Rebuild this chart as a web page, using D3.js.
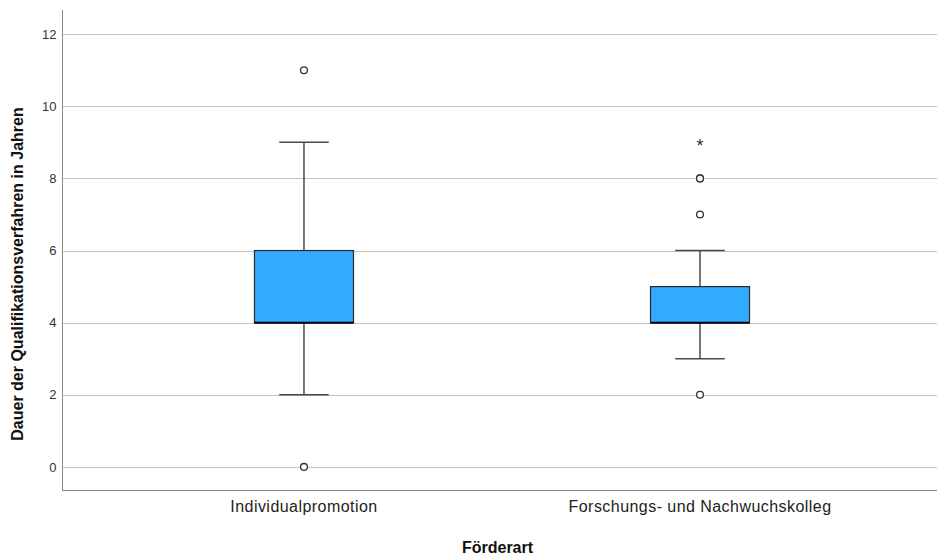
<!DOCTYPE html>
<html>
<head>
<meta charset="utf-8">
<script src="https://cdn.jsdelivr.net/npm/d3@7"></script>
<style>
  body { margin: 0; background: #fff; }
  svg { display: block; font-family: "Liberation Sans", Arial, sans-serif; }
</style>
</head>
<body>
<svg id="chart" width="937" height="556"></svg>
<script>
// Duration of the qualification process by type of funding
const categories = ["Individualpromotion", "Forschungs- und Nachwuchskolleg"];
const whiskerLow = [2, 3];
const q1 = [4, 4];
const median = [4, 4];
const q3 = [6, 5];
const whiskerHigh = [9, 6];
const outliers = [[0, 11], [2, 7, 8, 8]];   // circles
const extremes = [[], [9]];                  // asterisks
const yTicks = [0, 2, 4, 6, 8, 10, 12];

const svg = d3.select("#chart");
const W = 937, H = 556;
const plotLeft = 62, plotTop = 10, plotBottom = 490;

const y = d3.scaleLinear().domain([-0.64, 12.67]).range([plotBottom, plotTop]);
const x = d3.scaleBand().domain(categories).range([plotLeft, 942])
  .paddingInner(0.75).paddingOuter(0.486);
const bw = x.bandwidth();
const cx = c => x(c) + bw / 2;

// gridlines
svg.append("g").selectAll("line").data(yTicks).join("line")
  .attr("x1", plotLeft).attr("x2", W)
  .attr("y1", d => Math.round(y(d)) + 0.5).attr("y2", d => Math.round(y(d)) + 0.5)
  .attr("stroke", "#c4c4c4").attr("stroke-width", 1);

// axes
const yAxis = svg.append("g").attr("transform", `translate(${plotLeft + 0.5},0)`)
  .call(d3.axisLeft(y).tickValues(yTicks).tickSize(0).tickPadding(6));
yAxis.select(".domain").remove();
yAxis.selectAll("text").attr("font-size", 13).attr("fill", "#333")
  .style("font-family", "'Liberation Sans', Arial, sans-serif");

svg.append("line").attr("x1", plotLeft + 0.5).attr("x2", plotLeft + 0.5)
  .attr("y1", plotTop).attr("y2", plotBottom).attr("stroke", "#8a8a8a");
svg.append("line").attr("x1", plotLeft).attr("x2", W)
  .attr("y1", plotBottom + 0.5).attr("y2", plotBottom + 0.5).attr("stroke", "#8a8a8a");

const xAxis = svg.append("g").attr("transform", `translate(0,${plotBottom})`)
  .call(d3.axisBottom(x).tickSize(0).tickPadding(11));
xAxis.select(".domain").remove();
xAxis.selectAll("text").attr("font-size", 16).attr("fill", "#222")
  .attr("letter-spacing", "0.45px")
  .style("font-family", "'Liberation Sans', Arial, sans-serif");

// boxes
const g = svg.append("g");
categories.forEach((c, i) => {
  const m = cx(c);
  const cap = bw / 4;
  const wh = g.append("g").attr("stroke", "#4a4a4a").attr("stroke-width", 1.5);
  wh.append("line").attr("x1", m).attr("x2", m).attr("y1", y(q3[i])).attr("y2", y(whiskerHigh[i]));
  wh.append("line").attr("x1", m).attr("x2", m).attr("y1", y(q1[i])).attr("y2", y(whiskerLow[i]));
  wh.append("line").attr("x1", m - cap).attr("x2", m + cap).attr("y1", y(whiskerHigh[i])).attr("y2", y(whiskerHigh[i]));
  wh.append("line").attr("x1", m - cap).attr("x2", m + cap).attr("y1", y(whiskerLow[i])).attr("y2", y(whiskerLow[i]));

  g.append("rect").attr("x", x(c)).attr("width", bw)
    .attr("y", y(q3[i])).attr("height", y(q1[i]) - y(q3[i]))
    .attr("fill", "#30abff").attr("stroke", "#2a2a2a").attr("stroke-width", 1.2);
  g.append("line").attr("x1", x(c)).attr("x2", x(c) + bw)
    .attr("y1", y(median[i])).attr("y2", y(median[i]))
    .attr("stroke", "#000").attr("stroke-width", 2);

  g.append("g").selectAll("circle").data(outliers[i]).join("circle")
    .attr("cx", m).attr("cy", d => y(d)).attr("r", 3.4)
    .attr("fill", "#fff").attr("stroke", "#333").attr("stroke-width", 1.3);

  g.append("g").selectAll("text").data(extremes[i]).join("text")
    .attr("x", m).attr("y", d => y(d) + 10).attr("text-anchor", "middle")
    .attr("font-size", 18).attr("fill", "#333").text("*");
});

// axis titles
svg.append("text").attr("x", (plotLeft + W) / 2 - 2).attr("y", 553)
  .attr("text-anchor", "middle").attr("font-size", 16).attr("font-weight", "bold")
  .attr("fill", "#111").text("Förderart");
svg.append("text").attr("transform", `translate(23,${(plotTop + plotBottom) / 2 + 24}) rotate(-90)`)
  .attr("text-anchor", "middle").attr("font-size", 16).attr("font-weight", "bold")
  .attr("fill", "#111").text("Dauer der Qualifikationsverfahren in Jahren");
</script>
</body>
</html>
